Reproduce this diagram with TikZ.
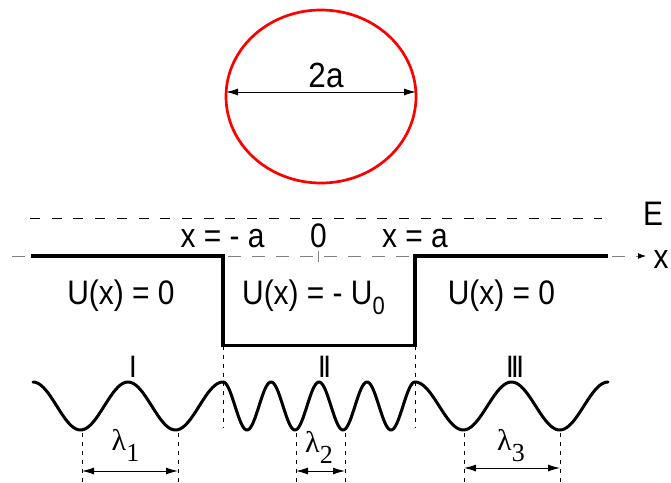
\documentclass[tikz,border=0pt]{standalone}
\usepackage{fontspec}
\setmainfont{Liberation Sans}
\newfontfamily\grfont{Liberation Serif}
\usetikzlibrary{arrows.meta}
\newcommand{\nar}[1]{\scalebox{0.88}[1]{#1}}
\begin{document}
\begin{tikzpicture}[x=1pt,y=-1pt,
  lbl/.style={font=\fontsize{34}{34}\selectfont, inner sep=0pt, anchor=base},
  lam/.style={font=\grfont\fontsize{30}{30}\selectfont, inner sep=0pt, anchor=base},
  rom/.style={font=\fontsize{31}{31}\selectfont\bfseries, inner sep=0pt, anchor=base},
  potline/.style={line width=3.3pt, line join=miter},
  wave/.style={line width=3pt, line cap=round, line join=round},
  edash/.style={line width=1pt, dash pattern=on 10pt off 11.7pt},
  axdash/.style={line width=1pt, gray, dash pattern=on 13pt off 11pt},
  vdash/.style={line width=1pt, dash pattern=on 4pt off 5pt},
  dimarr/.style={line width=1pt, {Latex[length=12pt,width=7pt]}-{Latex[length=12pt,width=7pt]}}]
\useasboundingbox (0,0) rectangle (671,482);

% circle
\coordinate (cc) at (321,96.5);
\draw[red, line width=2.7pt] (cc) ellipse [x radius=95pt, y radius=86.5pt];
\coordinate (cl) at (226,92);
\coordinate (cr) at (416,92);
\draw[dimarr] (cl) -- (cr);
\node[font=\fontsize{35}{35}\selectfont, inner sep=0pt, anchor=base] (twoa) at (326,87) {\scalebox{0.9}[1]{2a}};

% energy line
\coordinate (eL) at (30,218.5);
\coordinate (eR) at (602,218.5);
\draw[edash] (eL) -- (eR);
\node[lbl] (E) at (653,225) {\nar{E}};

% x axis
\coordinate (axL) at (12,256);
\coordinate (axR) at (646,256);
\draw[axdash, -{Latex[length=8pt,width=6pt,color=black]}] (axL) -- (axR);
\node[lbl] (xlab) at (661,268) {\nar{x}};
\coordinate (tk1) at (318,251);
\coordinate (tk2) at (318,262);
\draw[gray, line width=0.8pt] (tk1) -- (tk2);

% potential
\coordinate (p1) at (31,256);
\coordinate (p2) at (223,256);
\coordinate (p3) at (223,345.7);
\coordinate (p4) at (415,345.7);
\coordinate (p5) at (415,256);
\coordinate (p6) at (608,256);
\draw[potline] (p1) -- (p2) -- (p3) -- (p4) -- (p5) -- (p6);

\node[lbl] (xma) at (222.5,247) {\nar{x = - a}};
\node[lbl] (zero) at (318.5,247) {\nar{0}};
\node[lbl] (xa) at (415,247) {\nar{x = a}};
\node[lbl] (Ul) at (121,304) {\nar{U(x) = 0}};
\node[lbl] (Um) at (313.5,304) {\nar{U(x) = - U\raisebox{-10pt}{\fontsize{25}{25}\selectfont 0}}};
\node[lbl] (Ur) at (501.5,304) {\nar{U(x) = 0}};

% region boundaries
\coordinate (d1) at (223,427);
\coordinate (d2) at (415,427);
\draw[vdash] (p3) -- (d1);
\draw[vdash] (p4) -- (d2);

% waves
\draw[wave] plot[domain=33:223, samples=90, smooth] (\x, {406-24*cos(3.7895*(\x-33))});
\draw[wave] plot[domain=223:415, samples=140, smooth] (\x, {406-24*cos(7.5*(\x-223))});
\draw[wave] plot[domain=415:608, samples=90, smooth] (\x, {406-24*cos(3.7306*(\x-415))});

\node[rom] (r1) at (133,377) {\scalebox{0.6}[1]{I}};
\node[rom] (r2) at (324.5,377) {\scalebox{0.6}[1]{II}};
\node[rom] (r3) at (515,377) {\scalebox{0.6}[1]{III}};

% wavelengths
\foreach \n/\xx in {a/82, b/178, c/296, d/345, e/464, f/560} {
  \coordinate (t\n) at (\xx,433);
  \coordinate (b\n) at (\xx,482);
  \draw[vdash] (t\n) -- (b\n);
}
\coordinate (l1a) at (82,471);
\coordinate (l1b) at (178,471);
\coordinate (l2a) at (296,471);
\coordinate (l2b) at (345,471);
\coordinate (l3a) at (464,468);
\coordinate (l3b) at (560,468);
\draw[dimarr] (l1a) -- (l1b);
\draw[dimarr] (l2a) -- (l2b);
\draw[dimarr] (l3a) -- (l3b);
\node[lam] (lam1) at (125.5,450) {λ\raisebox{-11pt}{\fontsize{26}{26}\selectfont 1}};
\node[lam] (lam2) at (319,452) {λ\raisebox{-11pt}{\fontsize{26}{26}\selectfont 2}};
\node[lam] (lam3) at (511,450) {λ\raisebox{-11pt}{\fontsize{26}{26}\selectfont 3}};
\end{tikzpicture}
\end{document}
